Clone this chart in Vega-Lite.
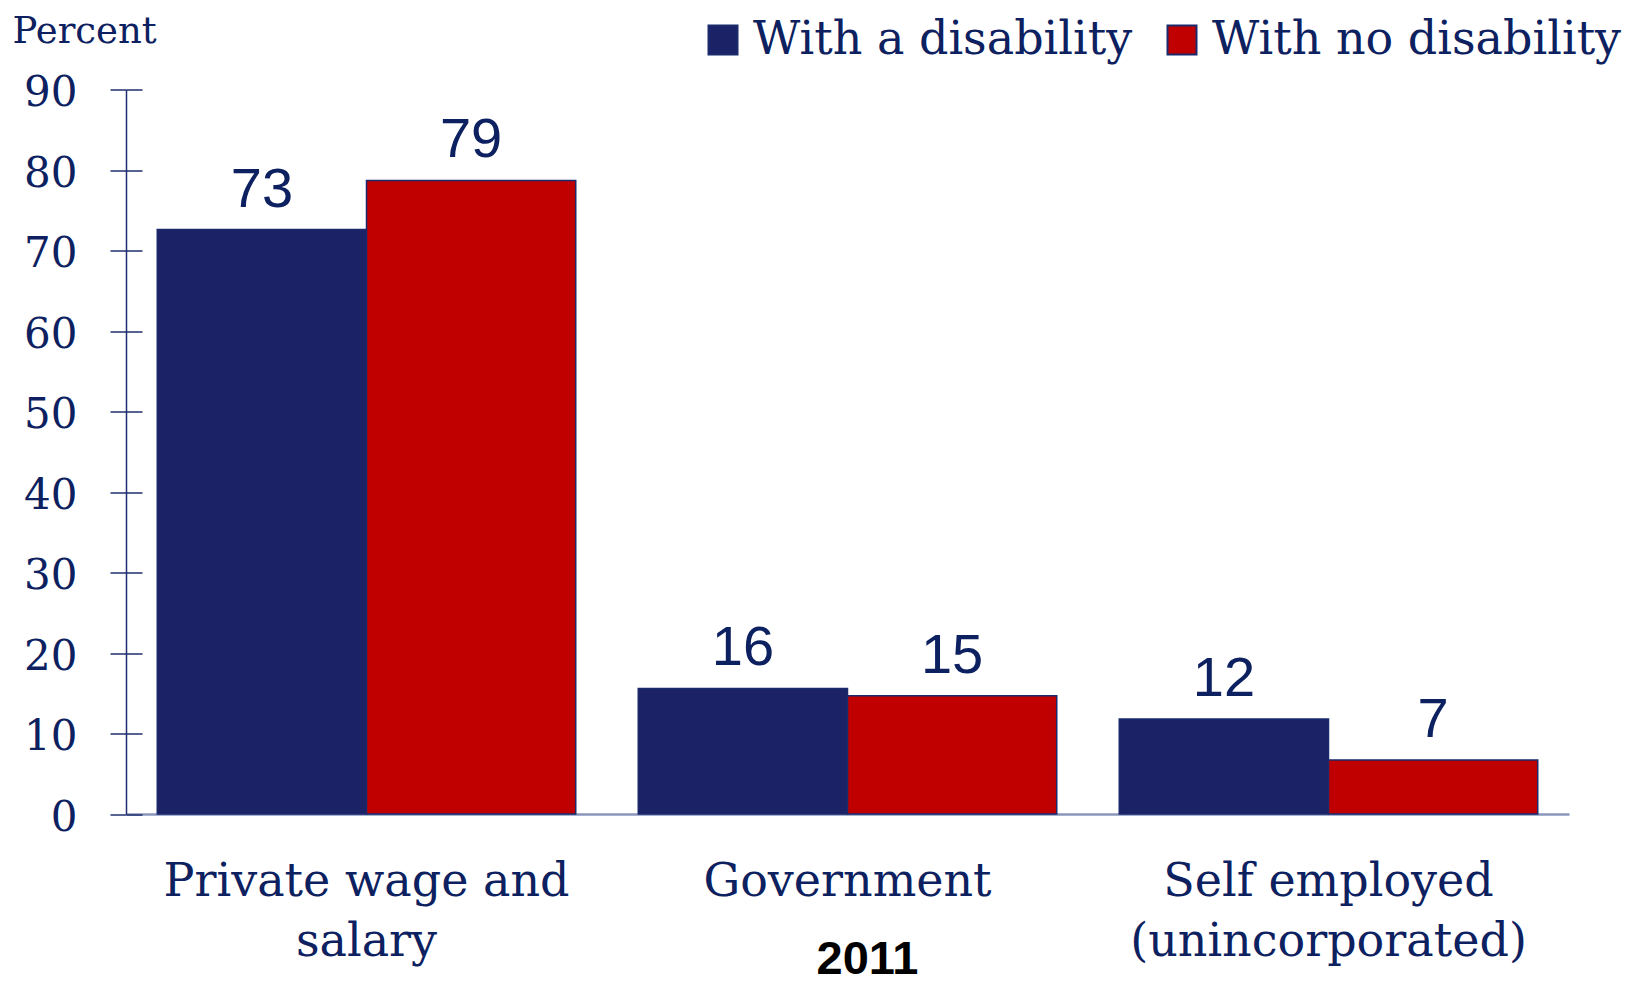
{
  "$schema": "https://vega.github.io/schema/vega-lite/v6.json",
  "autosize": "none",
  "width": 1443,
  "height": 724.5,
  "padding": {"left": 126, "top": 89.5, "right": 81, "bottom": 170},
  "background": "white",
  "config": {"view": {"stroke": null}},
  "data": {"values": [
    {"category": "Private wage and|salary", "group": "With a disability", "value": 72.6},
    {"category": "Private wage and|salary", "group": "With no disability", "value": 78.7},
    {"category": "Government", "group": "With a disability", "value": 15.6},
    {"category": "Government", "group": "With no disability", "value": 14.7},
    {"category": "Self employed|(unincorporated)", "group": "With a disability", "value": 11.8},
    {"category": "Self employed|(unincorporated)", "group": "With no disability", "value": 6.7}
  ]},
  "encoding": {
    "x": {
      "field": "category", "type": "nominal", "sort": null,
      "scale": {"paddingInner": 0.13, "paddingOuter": 0.065},
      "axis": {
        "labelAngle": 0, "ticks": false, "labelPadding": 81,
        "labelBaseline": "alphabetic", "labelFont": "DejaVu Serif", "labelFontSize": 46,
        "labelColor": "#0D2160", "labelLineHeight": 60, "labelLimit": 600,
        "labelExpr": "split(datum.value, '|')",
        "domainColor": "#8A97BD", "domainWidth": 2.5,
        "title": "2011", "titleFont": "Liberation Sans", "titleFontWeight": "bold",
        "titleFontSize": 47, "titleColor": "#000000", "titleX": 741, "titleY": 159,
        "titleAlign": "center", "titleBaseline": "alphabetic"
      }
    },
    "xOffset": {"field": "group", "type": "nominal", "sort": ["With a disability", "With no disability"], "scale": {"paddingInner": 0, "paddingOuter": 0}},
    "y": {"field": "value", "type": "quantitative", "scale": {"domain": [0, 90], "nice": false}}
  },
  "layer": [
    {
      "mark": {"type": "bar", "stroke": "#1A2A6C", "strokeWidth": 1.5},
      "encoding": {
        "y": {"field": "value", "type": "quantitative", "scale": {"domain": [0, 90], "nice": false},
          "axis": {
            "values": [0, 10, 20, 30, 40, 50, 60, 70, 80, 90], "grid": false,
            "tickSize": 16, "tickColor": "#1F2F6F", "tickWidth": 1.5,
            "domainColor": "#1F2F6F", "domainWidth": 1.5,
            "labelFont": "DejaVu Serif", "labelFontSize": 42, "labelColor": "#0D2160",
            "labelPadding": 33, "labelOffset": 3,
            "title": "Percent", "titleAngle": 0, "titleX": -114, "titleY": -47.5,
            "titleAlign": "left", "titleBaseline": "alphabetic", "titleFont": "DejaVu Serif",
            "titleFontSize": 37, "titleFontWeight": "normal", "titleColor": "#0D2160"
          }},
        "color": {
          "field": "group", "type": "nominal",
          "scale": {"domain": ["With a disability", "With no disability"], "range": ["#1B2366", "#C00000"]},
          "legend": {
            "title": null, "orient": "none", "direction": "horizontal",
            "legendX": 574, "legendY": -72.5,
            "symbolType": "square", "symbolSize": 841, "symbolStrokeColor": "#1A2A6C",
            "symbolStrokeWidth": 2, "symbolOpacity": 1,
            "labelFont": "DejaVu Serif", "labelFontSize": 46, "labelColor": "#0D2160",
            "labelLimit": 600, "labelOffset": 7, "columnPadding": 26
          }
        }
      }
    },
    {
      "mark": {"type": "text", "baseline": "alphabetic", "dy": -23, "font": "Liberation Sans", "fontSize": 56, "color": "#0D2160"},
      "encoding": {
        "text": {"field": "value", "type": "quantitative", "format": ".0f"},
        "y": {"field": "value", "type": "quantitative", "scale": {"domain": [0, 90], "nice": false},
          "axis": {"orient": "left", "values": [0, 10, 20, 30, 40, 50, 60, 70, 80, 90], "grid": false,
            "labels": false, "domain": false, "tickSize": -16, "tickColor": "#1F2F6F", "tickWidth": 1.5, "title": null}}
      }
    }
  ],
  "resolve": {"axis": {"y": "independent"}}
}
